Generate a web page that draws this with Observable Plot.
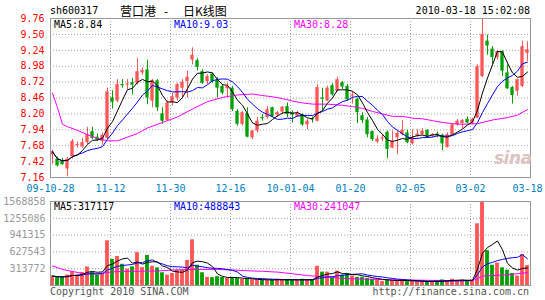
<!DOCTYPE html>
<html><head><meta charset="utf-8">
<script src="https://cdn.jsdelivr.net/npm/d3@7"></script>
<script src="https://cdn.jsdelivr.net/npm/@observablehq/plot@0.6"></script>
<style>
body{margin:0;background:#fff;}
#wrap{position:relative;width:545px;height:300px;overflow:hidden;font-family:"DejaVu Sans Mono",monospace;font-size:10px;background:#fff;}
#wrap svg{position:absolute;left:0;}
.t{position:absolute;white-space:nowrap;line-height:10px;}
</style></head><body><div id="wrap"></div>
<script>
// ---- data ----
const open = [7.53,7.46,7.43,7.30,7.50,7.68,7.66,7.73,7.91,7.82,
7.75,7.80,8.46,8.41,8.68,8.67,8.71,8.70,8.87,8.92,
8.41,8.74,8.20,8.09,8.38,8.46,8.62,8.73,9.08,9.07,
8.89,8.73,8.85,8.75,8.65,8.61,8.62,8.24,8.03,8.20,
7.81,7.92,8.14,8.14,8.30,8.18,8.23,8.32,8.22,8.15,
8.19,8.02,8.12,8.08,8.46,8.41,8.66,8.57,8.71,8.65,
8.49,8.44,8.17,8.10,7.91,7.74,7.79,7.90,7.64,7.81,
7.86,7.89,7.71,7.84,7.86,7.93,7.83,7.87,7.85,7.65,
7.85,8.02,8.04,8.11,8.04,8.13,8.81,9.39,9.26,9.12,
9.22,8.87,8.63,8.57,8.65,9.19];
const high = [7.61,7.49,7.47,7.49,7.78,7.74,7.80,7.98,7.98,7.87,
7.89,8.62,8.58,8.76,8.76,8.76,8.78,9.11,8.95,9.08,
8.76,8.76,8.30,8.41,8.54,8.70,8.76,8.90,9.28,9.10,
8.92,8.84,8.87,8.79,8.68,8.70,8.65,8.27,8.24,8.30,
7.93,8.14,8.19,8.32,8.31,8.24,8.32,8.38,8.25,8.24,
8.20,8.11,8.15,8.68,8.62,8.65,8.69,8.80,8.73,8.68,
8.56,8.46,8.22,8.14,7.92,7.84,7.86,7.92,7.92,7.92,
8.09,7.93,7.94,7.94,7.96,7.94,7.88,7.90,7.87,7.89,
8.04,8.11,8.11,8.15,8.13,9.00,9.76,9.49,9.30,9.23,
9.23,9.00,8.65,8.77,9.39,9.38];
const low = [7.37,7.33,7.36,7.17,7.46,7.64,7.64,7.70,7.78,7.75,
7.69,7.78,8.28,8.38,8.62,8.60,8.51,8.67,8.83,8.35,
8.30,8.24,8.03,8.08,8.33,8.41,8.46,8.46,9.00,8.90,
8.68,8.68,8.70,8.46,8.51,8.46,8.24,8.00,8.00,7.81,
7.78,7.89,8.08,8.11,8.14,8.14,8.19,8.14,8.05,8.15,
8.00,7.94,8.05,8.07,8.24,8.40,8.49,8.56,8.60,8.41,
8.36,8.04,8.04,7.81,7.75,7.71,7.75,7.47,7.63,7.53,
7.84,7.71,7.69,7.81,7.84,7.80,7.81,7.81,7.60,7.64,
7.84,8.00,7.95,8.04,8.02,8.12,8.79,9.16,9.00,9.08,
8.81,8.60,8.36,8.49,8.63,9.06];
const close = [7.58,7.35,7.37,7.46,7.75,7.70,7.73,7.86,7.80,7.77,
7.85,8.56,8.39,8.68,8.66,8.69,8.67,8.89,8.91,8.46,
8.75,8.30,8.08,8.38,8.48,8.68,8.72,8.80,9.16,8.96,
8.70,8.81,8.72,8.62,8.54,8.65,8.27,8.03,8.22,7.82,
7.92,8.08,8.12,8.27,8.15,8.22,8.31,8.19,8.18,8.21,
8.02,8.08,8.10,8.63,8.44,8.62,8.51,8.76,8.64,8.43,
8.51,8.22,8.09,7.86,7.78,7.79,7.81,7.62,7.75,7.88,
7.93,7.73,7.82,7.87,7.92,7.82,7.86,7.84,7.71,7.86,
8.02,8.08,8.09,8.05,8.11,8.97,9.50,9.31,9.12,9.22,
8.90,8.61,8.50,8.76,9.30,9.25];
const volume = [177000,152000,152000,195000,256000,195000,244000,347000,256000,195000,
225000,835000,487000,542000,396000,305000,347000,615000,335000,560000,
360000,329000,238000,195000,225000,286000,286000,469000,853000,378000,
238000,152000,146000,165000,152000,134000,152000,134000,116000,116000,
104000,104000,104000,104000,104000,116000,104000,104000,104000,104000,
116000,104000,104000,360000,250000,250000,152000,268000,195000,225000,
177000,152000,152000,134000,116000,104000,73000,104000,91000,91000,
104000,73000,73000,73000,73000,73000,73000,91000,104000,91000,
116000,91000,104000,91000,91000,1152000,1560000,652000,378000,420000,
329000,286000,225000,177000,579000,372000];
const ma30Idx = [0,1,2,3,5,7,9,11,13,15,17,19,22,25,28,31,34,37,40,42,44,46,48,50,52,55,58,60,62,64,66,68,70,72,74,76,78,80,82,85,88,91,93,95];
const ma30Val = [8.54,8.30,8.03,7.99,7.93,7.86,7.80,7.76,7.76,7.82,7.88,7.97,8.06,8.15,8.28,8.40,8.47,8.51,8.525,8.50,8.48,8.45,8.41,8.38,8.36,8.36,8.34,8.32,8.29,8.24,8.20,8.16,8.16,8.13,8.12,8.09,8.06,8.04,8.03,8.04,8.10,8.14,8.18,8.27];
const vma30Idx = [0,2,4,6,9,12,15,18,21,24,27,30,33,36,39,42,45,48,51,54,57,60,63,66,70,75,80,84,85,86,88,91,95];
const vma30Val = [366000,300000,262000,225000,215000,255000,265000,268000,270000,290000,298000,300000,300000,290000,275000,265000,250000,220000,185000,165000,140000,125000,118000,110000,104000,97000,92000,91000,128000,178000,186000,200000,241000];
// axes
const priceTicks = [7.16,7.42,7.68,7.94,8.20,8.46,8.72,8.98,9.24,9.50,9.76];
const volTicks = [313772,627543,941315,1255086,1568858];
const dateTickIdx = [-0.4,11.6,23.6,35.6,47.6,59.6,71.6,83.6,95];
const dateTickLabels = ["09-10-28","11-12","11-30","12-16","10-01-04","01-20","02-05","03-02","03-18"];
const gridIdx = [11.6,23.6,35.6,47.6,59.6,71.6,83.6];
// legend / titles
const maNames = ["MA5","MA10","MA30"];
const priceMALast = ["8.84","9.03","8.28"];
const volMALast = ["317117","488843","241047"];
const titleParts = ["营口港", "-", "日K线图"];

// ---- styles ----
const RED = "#ff5555", GREEN = "#00a000", BLUE_MA = "#0000ff", MAG = "#ff00ff";
const maColors = ["#000000", BLUE_MA, MAG];
const GRID = {stroke: "#a0a0a0", strokeDasharray: "1,2"};
const rows = d3.range(open.length).map(i => ({i, o: open[i], h: high[i], l: low[i], c: close[i], v: volume[i]}));
const col = d => d.c >= d.o ? RED : GREEN;
const labelMap = new Map(dateTickIdx.map((d, k) => [d, dateTickLabels[k]]));
const font = {fontFamily: "DejaVu Sans Mono", fontSize: "10px", background: "transparent", overflow: "visible"};

const topPlot = Plot.plot({
  width: 545, height: 193, marginLeft: 50, marginRight: 15, marginTop: 18, marginBottom: 16,
  style: font,
  x: {domain: [-0.4, 95.6], axis: null, label: null},
  y: {domain: [7.16, 9.76], axis: null, label: null},
  marks: [
    Plot.ruleY(priceTicks.slice(1, -1), GRID),
    Plot.ruleX(gridIdx, GRID),
    Plot.ruleX(rows, {x: "i", y1: "l", y2: "h", stroke: col}),
    Plot.rect(rows, {x1: d => d.i - 0.33, x2: d => d.i + 0.33, y1: "o", y2: "c", fill: col}),
    Plot.lineY(ma30Val, {x: ma30Idx, stroke: MAG, strokeWidth: 1}),
    Plot.lineY(rows, Plot.windowY({k: 10, anchor: "end"}, {x: "i", y: "c", stroke: BLUE_MA, strokeWidth: 1})),
    Plot.lineY(rows, Plot.windowY({k: 5, anchor: "end"}, {x: "i", y: "c", stroke: "#000", strokeWidth: 1})),
    Plot.frame({stroke: "#999"}),
    Plot.axisY(priceTicks, {tickSize: 0, tickPadding: 6, tickFormat: d => d.toFixed(2), color: "#ff0000", label: null}),
    Plot.axisX(dateTickIdx, {tickSize: 0, tickPadding: 7, tickFormat: d => labelMap.get(d), color: "#0080c0", label: null})
  ]
});

const botPlot = Plot.plot({
  width: 545, height: 107, marginLeft: 50, marginRight: 15, marginTop: 8, marginBottom: 15,
  style: font,
  x: {domain: [-0.4, 95.6], axis: null, label: null},
  y: {domain: [0, 1568858], axis: null, label: null},
  marks: [
    Plot.ruleY(volTicks.slice(0, -1), GRID),
    Plot.ruleX(gridIdx, GRID),
    Plot.rectY(rows, {x1: d => d.i - 0.38, x2: d => d.i + 0.38, y: "v", fill: col}),
    Plot.lineY(vma30Val, {x: vma30Idx, stroke: MAG, strokeWidth: 1}),
    Plot.lineY(rows, Plot.windowY({k: 10, anchor: "end"}, {x: "i", y: "v", stroke: BLUE_MA, strokeWidth: 1})),
    Plot.lineY(rows, Plot.windowY({k: 5, anchor: "end"}, {x: "i", y: "v", stroke: "#000", strokeWidth: 1})),
    Plot.frame({stroke: "#999"}),
    Plot.axisY(volTicks, {tickSize: 0, tickPadding: 5, tickFormat: d => String(d), color: "#999", label: null})
  ]
});

const wrap = document.getElementById("wrap");
topPlot.style.top = "0px";
botPlot.style.top = "193px";
wrap.appendChild(topPlot);
wrap.appendChild(botPlot);

function txt(s, st) {
  const d = document.createElement("div");
  d.className = "t"; d.textContent = s;
  Object.assign(d.style, st);
  wrap.appendChild(d);
  return d;
}
txt("sh600317", {left: "50px", top: "6px", color: "#000"});
const cjk = {top: "4px", fontFamily: "'Noto Sans CJK SC'", fontSize: "12px", lineHeight: "14px", color: "#000"};
txt(titleParts[0], Object.assign({left: "120px"}, cjk));
txt(titleParts[1], Object.assign({left: "164px"}, cjk));
txt(titleParts[2], Object.assign({left: "183px"}, cjk));
txt("2010-03-18 15:02:08", {right: "15px", top: "6px", color: "#000"});
const legendX = [54, 174, 294];
maNames.forEach((n, k) => {
  txt(n + ":" + priceMALast[k], {left: legendX[k] + "px", top: "20px", color: maColors[k]});
  txt(n + ":" + volMALast[k], {left: legendX[k] + "px", top: "202px", color: maColors[k]});
});
txt("Copyright 2010 SINA.COM", {left: "50px", top: "287px", color: "#555"});
txt("http://finance.sina.com.cn", {right: "16px", top: "287px", color: "#555"});
txt("sina", {left: "494px", top: "148px", fontFamily: "'DejaVu Sans'", fontSize: "17px", fontWeight: "bold", fontStyle: "italic", lineHeight: "20px", color: "#dcc4c4", letterSpacing: "-0.5px"});
</script></body></html>
